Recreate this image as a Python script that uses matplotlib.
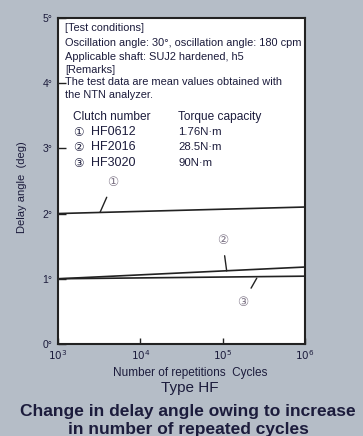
import matplotlib

matplotlib.use("Agg")

import matplotlib.pyplot as plt

# values
cycles = [1e3, 1e6]
hf0612 = [2.0, 2.1]
hf2016 = [1.0, 1.18]
hf3020 = [1.0, 1.04]
y_ticks = [0, 1, 2, 3, 4, 5]
x_ticks = [1e3, 1e4, 1e5, 1e6]
x_labels = ["$10^3$", "$10^4$", "$10^5$", "$10^6$"]
clutches = ["HF0612", "HF2016", "HF3020"]
torques = ["1.76N·m", "28.5N·m", "90N·m"]
marks = ["①", "②", "③"]

BG = "#b5bdc7"
INK = "#1c1c3c"
FAM = ["Liberation Sans", "DejaVu Sans", "Noto Sans CJK JP"]
CIRC = ["DejaVu Sans", "Noto Sans CJK JP"]
plt.rcParams["font.family"] = FAM

fig = plt.figure(figsize=(3.63, 4.36), dpi=100, facecolor=BG)
ax = fig.add_axes([0.16, 0.211, 0.68, 0.748])

for ys in (hf0612, hf2016, hf3020):
    ax.plot(cycles, ys, color="#222222", lw=1.2)

ax.set_xscale("log")
ax.set_xlim(1e3, 1e6)
ax.set_ylim(0, 5)
ax.set_xticks(x_ticks, x_labels)
ax.set_yticks(y_ticks, [f"{v}°" for v in y_ticks])
ax.minorticks_off()
ax.tick_params(axis="both", direction="in", labelsize=7.5, colors="#222222",
               labelcolor=INK, width=1)
ax.tick_params(axis="y", length=6, pad=4)
ax.tick_params(axis="x", length=4, pad=3)
for s in ax.spines.values():
    s.set_linewidth(1.5)
    s.set_color("#222222")

ax.set_ylabel("Delay angle  (deg)", fontsize=8, color=INK)
ax.yaxis.set_label_coords(-0.125, 0.48)

# numbered leaders
leaders = [((3240, 2.02), (4660, 2.47)),
           ((1.12e5, 1.12), (1.0e5, 1.58)),
           ((2.6e5, 1.01), (1.77e5, 0.64))]
for m, (xy, xyt) in zip(marks, leaders):
    ax.annotate(m, xy=xy, xytext=xyt, fontsize=9, color="#7d7486",
                ha="center", va="center", family=CIRC,
                arrowprops=dict(arrowstyle="-", color="#222222", lw=1,
                                shrinkA=4, shrinkB=0))

# test conditions block
tx = 0.028
lines = [
    (0.969, "[Test conditions]"),
    (0.923, "Oscillation angle: 30°, oscillation angle: 180 cpm"),
    (0.880, "Applicable shaft: SUJ2 hardened, h5"),
    (0.840, "[Remarks]"),
    (0.803, "The test data are mean values obtained with"),
    (0.763, "the NTN analyzer."),
]
for y, t in lines:
    ax.text(tx, y, t, transform=ax.transAxes, fontsize=7.9, color=INK,
            va="center", ha="left")

ax.text(0.06, 0.696, "Clutch number", transform=ax.transAxes, fontsize=8.6,
        color=INK, va="center")
ax.text(0.487, 0.696, "Torque capacity", transform=ax.transAxes, fontsize=8.6,
        color=INK, va="center")
row_y = [0.650, 0.604, 0.555]
for y, m, c, tq in zip(row_y, marks, clutches, torques):
    ax.text(0.06, y, m, transform=ax.transAxes, fontsize=8.5, color=INK,
            va="center", family=CIRC)
    ax.text(0.135, y, c, transform=ax.transAxes, fontsize=9, color=INK, va="center")
    ax.text(0.487, y, tq, transform=ax.transAxes, fontsize=8.2, color=INK,
            va="center")

fig.text(0.523, 1 - 373 / 436, "Number of repetitions  Cycles", fontsize=8.5,
         color=INK, ha="center", va="center")
fig.text(0.523, 1 - 388 / 436, "Type HF", fontsize=11, color=INK,
         ha="center", va="center")
fig.text(0.518, 1 - 411 / 436, "Change in delay angle owing to increase",
         fontsize=12.5, fontweight="bold", color=INK, ha="center", va="center")
fig.text(0.518, 1 - 429 / 436, "in number of repeated cycles",
         fontsize=12.5, fontweight="bold", color=INK, ha="center", va="center")

fig.savefig("out.png", dpi=100, facecolor=BG)
